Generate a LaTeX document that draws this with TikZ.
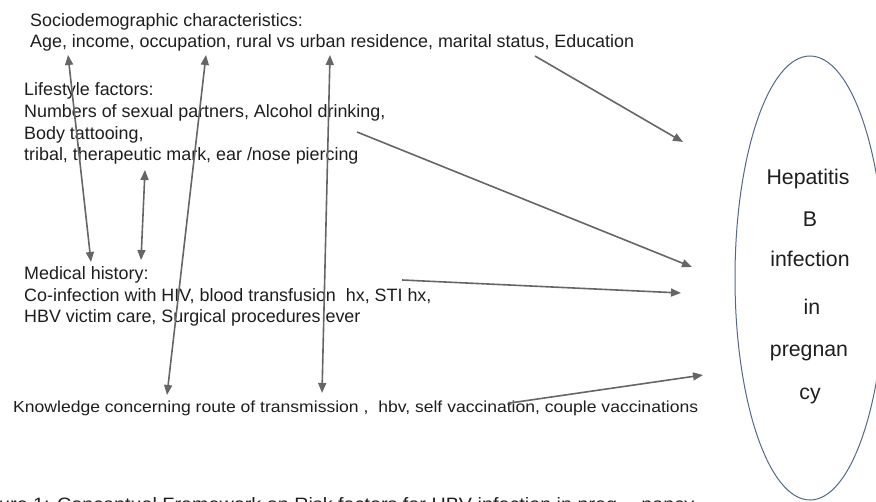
\documentclass[tikz,border=0pt]{standalone}
\usepackage{fontspec}
\setmainfont{Liberation Sans}
\usepackage{graphicx}
\usetikzlibrary{arrows.meta,shapes.geometric}
\definecolor{txtc}{HTML}{1E1E1E}
\definecolor{arrc}{HTML}{666666}
\definecolor{ellc}{HTML}{56688A}
\begin{document}
\begin{tikzpicture}[x=1pt,y=-1pt,
  txt/.style={inner sep=0pt, anchor=base west, text=txtc, font=\fontsize{17.9pt}{21pt}\selectfont},
  htxt/.style={inner sep=0pt, anchor=base, text=txtc, font=\fontsize{21.3pt}{25pt}\selectfont},
  arr/.style={draw=arrc, line width=1.6pt, -{Triangle[length=10pt,width=8pt]}},
  darr/.style={draw=arrc, line width=1.6pt, {Triangle[length=10pt,width=8pt]}-{Triangle[length=10pt,width=8pt]}}]
\useasboundingbox (0,0) rectangle (876,502);
\clip (0,0) rectangle (876,502);
% left texts
\node[txt] (s1) at (30,26.5) {Sociodemographic characteristics:};
\node[txt] (s2) at (30,47.5) {Age, income, occupation, rural vs urban residence, marital status, Education};
\node[txt] (l1) at (24,96) {Lifestyle factors:};
\node[txt] (l2) at (24,118) {Numbers of sexual partners, Alcohol drinking,};
\node[txt] (l3) at (24,140) {Body tattooing,};
\node[txt] (l4) at (24,161) {tribal, therapeutic mark, ear /nose piercing};
\node[txt] (m1) at (24,280) {Medical history:};
\node[txt] (m2) at (24,302) {Co-infection with HIV, blood transfusion\ \ hx, STI hx,};
\node[txt] (m3) at (24,323) {HBV victim care, Surgical procedures ever};
\node[txt, font=\fontsize{16pt}{19pt}\selectfont] (k) at (13,413) {\resizebox{685pt}{\height}{Knowledge concerning route of transmission ,\ \ hbv, self vaccination, couple vaccinations}};
\node[txt] (cap) at (-1,511) {\resizebox{695pt}{\height}{ure 1: Conceptual Framework on Risk factors for HBV infection in preg\hspace{22pt}nancy}};
% ellipse
\node[draw=ellc, line width=1pt, ellipse, minimum width=150pt, minimum height=444pt, inner sep=0pt] (hbv) at (810,278) {};
\node[htxt] (h1) at (808,185) {Hepatitis};
\node[htxt] (h2) at (810,227) {B};
\node[htxt] (h3) at (810,267) {infection};
\node[htxt] (h4) at (812,315) {in};
\node[htxt] (h5) at (809,357) {pregnan};
\node[htxt] (h6) at (810,400) {cy};
% arrow end points
\coordinate (e1s) at (535,56);  \coordinate (e1t) at (683,142);
\coordinate (e2s) at (357,132); \coordinate (e2t) at (692,267);
\coordinate (e3s) at (402,280); \coordinate (e3t) at (681,293);
\coordinate (e4s) at (510,403); \coordinate (e4t) at (703,375);
\coordinate (va1) at (68,55);   \coordinate (va2) at (91,262);
\coordinate (vb1) at (145,170); \coordinate (vb2) at (141,260);
\coordinate (vc1) at (206,55);  \coordinate (vc2) at (167,395);
\coordinate (vd1) at (330,55);  \coordinate (vd2) at (322,393);
% arrows
\draw[arr] (e1s) -- (e1t);
\draw[arr] (e2s) -- (e2t);
\draw[arr] (e3s) -- (e3t);
\draw[arr] (e4s) -- (e4t);
\draw[darr] (va1) -- (va2);
\draw[darr] (vb1) -- (vb2);
\draw[darr] (vc1) -- (vc2);
\draw[darr] (vd1) -- (vd2);
\end{tikzpicture}
\end{document}
